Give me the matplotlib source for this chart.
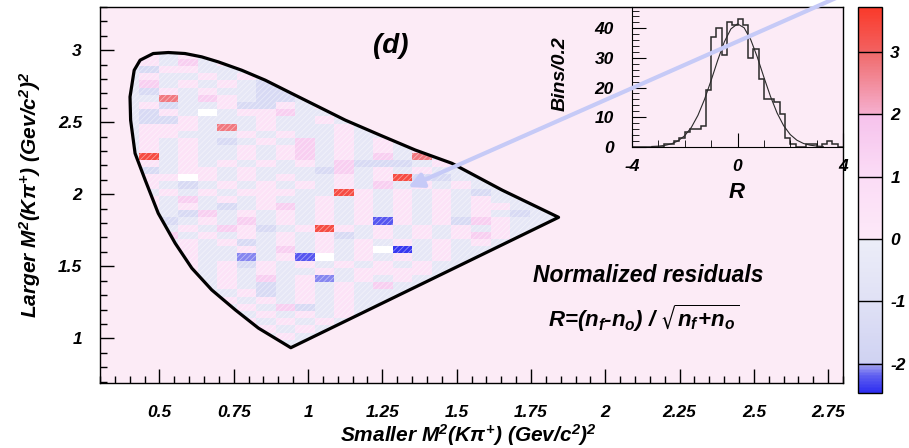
import numpy as np
import matplotlib
matplotlib.use('Agg')
import matplotlib.pyplot as plt
from matplotlib.colors import LinearSegmentedColormap, Normalize
from matplotlib.patches import Polygon
from matplotlib.ticker import MultipleLocator, FixedLocator

plt.rcParams.update({
    'font.family': ['Liberation Sans', 'DejaVu Sans'],
    'font.weight': 'bold',
    'font.style': 'italic',
    'axes.unicode_minus': False,
    'mathtext.fontset': 'custom',
    'mathtext.rm': 'Liberation Sans:bold:italic',
    'mathtext.it': 'Liberation Sans:bold:italic',
    'mathtext.bf': 'Liberation Sans:bold:italic',
    'mathtext.sf': 'Liberation Sans:bold:italic',
    'mathtext.fallback': 'stixsans',
    'hatch.linewidth': 0.6,
})

# ---------------- data ----------------
# residual cells, rows from top (k=45) to bottom (k=4), columns j=1..23
residual_rows = [
    "cpcpc" "cpccc" "ccccc" "ccccc" "ccc",  # 45
    "cpcmc" "pccpc" "ccccc" "ccccc" "ccc",  # 44
    "clppc" "ccpcc" "ccccc" "ccccc" "ccc",  # 43
    "cpccp" "cpccc" "ccccc" "ccccc" "ccc",  # 42
    "cmcpc" "pcllc" "ccccc" "ccccc" "ccc",  # 41
    "clpcp" "ccllp" "ccccc" "ccccc" "ccc",  # 40
    "ccrcm" "pcllc" "cpccc" "ccccc" "ccc",  # 39
    "cplcc" "pllpc" "pcccc" "ccccc" "ccc",  # 38
    "clpcW" "cppmc" "cpccc" "ccccc" "ccc",  # 37
    "cllpc" "ccpcc" "pcccc" "ccccc" "ccc",  # 36
    "cpppc" "rcpcc" "cpcpc" "ccccc" "ccc",  # 35
    "cppcc" "cpcpc" "cpccp" "ccccc" "ccc",  # 34
    "cpcpc" "lcpcm" "cpcpc" "ccccc" "ccc",  # 33
    "cpcpc" "cpcpm" "cpcpc" "pcccc" "ccc",  # 32
    "cRcpc" "cpcpm" "cpcmc" "rcccc" "ccc",  # 31
    "cpcpc" "pcpcp" "cmlll" "cpccc" "ccc",  # 30
    "clcpp" "cpccc" "lmcpc" "pcccc" "ccc",  # 29
    "cppWp" "cpcpc" "cpcpR" "llccc" "ccc",  # 28
    "cpclc" "pcpcp" "cpcmc" "pcpcc" "ccc",  # 27
    "ccpcp" "cpppc" "cRpcp" "cpclc" "ccc",  # 26
    "cpcmc" "pcpcc" "pcpcp" "cpcpc" "ccc",  # 25
    "cpcpc" "lcpmc" "pcpcp" "cpcpp" "ccc",  # 24
    "cpclm" "cpcpc" "pcpcp" "cpcpc" "lcc",  # 23
    "cplcp" "cmcpc" "pcpBp" "cplmp" "ccc",  # 22
    "cpcpc" "mplcp" "Rpcpc" "pcpcp" "ccc",  # 21
    "cpmcp" "cpcpc" "plcpc" "pcpmp" "ccc",  # 20
    "cpcpc" "plcpc" "pcpcp" "cpcpc" "ccc",  # 19
    "cpcpc" "cpcmc" "pcpWD" "cpccc" "ccc",  # 18
    "cpcpc" "cbcpB" "Wcpcp" "cpccc" "ccc",  # 17
    "cpcpc" "plpcp" "cpcpc" "pcccc" "ccc",  # 16
    "cpcpc" "pcpcc" "pcppp" "pcccc" "ccc",  # 15
    "cpcpc" "pcmcp" "bcpcp" "ccccc" "ccc",  # 14
    "cpcpc" "pclcp" "cpcmc" "ccccc" "ccc",  # 13
    "cpcpc" "cplcp" "cpccc" "ccccc" "ccc",  # 12
    "cpcpc" "pcpcp" "cpccc" "ccccc" "ccc",  # 11
    "cpcpc" "cpcml" "cpccc" "ccccc" "ccc",  # 10
    "cpcpc" "pcpcp" "cpccc" "ccccc" "ccc",  # 9
    "cpcpc" "cpcpc" "pcccc" "ccccc" "ccc",  # 8
    "cpcpc" "pcpcp" "ccccc" "ccccc" "ccc",  # 7
    "cpcpc" "cpcpc" "ccccc" "ccccc" "ccc",  # 6
    "cpcpc" "pcpcc" "ccccc" "ccccc" "ccc",  # 5
    "cpcpc" "cpccc" "ccccc" "ccccc" "ccc",  # 4
]
code_values = {'c': -0.5, 'p': 0.5, 'm': 1.5, 'l': -1.5, 'r': 2.8, 'R': 3.4,
               'b': -2.1, 'B': -2.25, 'D': -2.4, 'W': np.nan}

# Dalitz boundary
boundary_x = [0.942, 0.833, 0.755, 0.676, 0.609, 0.553, 0.496, 0.452, 0.418, 0.403,
              0.401, 0.415, 0.435, 0.479, 0.530, 0.586, 0.642, 0.698, 0.777, 0.856,
              0.945, 1.058, 1.125, 1.243, 1.361, 1.484, 1.653, 1.843]
boundary_y = [0.935, 1.071, 1.198, 1.336, 1.487, 1.660, 1.868, 2.099, 2.284, 2.515,
              2.676, 2.861, 2.931, 2.977, 2.984, 2.977, 2.954, 2.919, 2.861, 2.792,
              2.700, 2.584, 2.515, 2.410, 2.307, 2.215, 2.029, 1.840]

# inset histogram of R (bins of 0.2 from -4 to 4)
hist_counts = [0, 0, 0, 0, 0, 0, 1, 1, 2, 3, 5, 6, 6, 7, 19, 37, 40, 31, 42, 41,
               43, 41, 30, 33, 23, 16, 16, 15, 11, 3, 1, 0, 0, 1, 1, 0, 1, 2, 1, 0]
fit_R = [-3.25, -3.0, -2.75, -2.5, -2.25, -2.0, -1.75, -1.5, -1.25, -1.0, -0.75, -0.5,
         -0.25, 0.0, 0.25, 0.5, 0.75, 1.0, 1.25, 1.5, 1.75, 2.0, 2.25, 2.5, 2.75, 3.0, 3.25]
fit_counts = [0.08, 0.19, 0.45, 0.98, 1.98, 3.73, 6.52, 10.6, 16.0, 22.4, 29.2, 35.4,
              39.8, 41.5, 40.2, 36.2, 30.3, 23.5, 17.0, 11.4, 7.1, 4.1, 2.2, 1.1, 0.51, 0.22, 0.09]

x_ticks = [0.5, 0.75, 1.0, 1.25, 1.5, 1.75, 2.0, 2.25, 2.5, 2.75]
x_ticklabels = ['0.5', '0.75', '1', '1.25', '1.5', '1.75', '2', '2.25', '2.5', '2.75']
y_ticks = [1.0, 1.5, 2.0, 2.5, 3.0]
y_ticklabels = ['1', '1.5', '2', '2.5', '3']
cbar_ticks = [-2, -1, 0, 1, 2, 3]

# ---------------- colours ----------------
vmin, vmax = -2.47, 3.72
nodes = [(-2.47, '#2e2ef0'), (-2.2, '#6060f0'), (-2.001, '#b0b0f0'), (-2.0, '#cfd2f2'),
         (-1.0, '#e0e1f5'), (0.0, '#ecedf8'), (0.001, '#fde9f8'), (1.0, '#fbdcf6'),
         (2.0, '#f6c2ec'), (2.001, '#f5b0d0'), (3.0, '#f06a6a'), (3.001, '#f26262'),
         (3.72, '#fa3a2a')]
cmap = LinearSegmentedColormap.from_list(
    'resid', [((v - vmin) / (vmax - vmin), c) for v, c in nodes])
cmap.set_bad('white')
norm = Normalize(vmin, vmax)

# ---------------- figure ----------------
fig = plt.figure(figsize=(9.09, 4.48), dpi=100)
ax = fig.add_axes([100 / 909, 65 / 448, 743 / 909, 376 / 448])
ax.set_facecolor('#fcebf6')
ax.set_xlim(0.3, 2.8)
ax.set_ylim(0.69, 3.3)

grid = np.array([[code_values[ch] for ch in row] for row in residual_rows[::-1]])
x_edges = 0.3 + 0.0657 * np.arange(1, grid.shape[1] + 2)
y_edges = 0.69 + 0.05 * np.arange(4, 4 + grid.shape[0] + 1)
mesh = ax.pcolormesh(x_edges, y_edges, np.ma.masked_invalid(grid), cmap=cmap, norm=norm,
                     zorder=1)

poly_pts = list(zip(boundary_x, boundary_y))
clip_poly = Polygon(poly_pts, closed=True, transform=ax.transData, facecolor='none',
                    edgecolor='none')
ax.add_patch(clip_poly)
mesh.set_clip_path(clip_poly)
# fine diagonal texture inside the region
ax.add_patch(Polygon(poly_pts, closed=True, facecolor='none', edgecolor=(1, 1, 1, 0.45),
                     lw=0, hatch='//////', zorder=2))
ax.add_patch(Polygon(poly_pts, closed=True, facecolor='none', edgecolor='black',
                     lw=2.3, joinstyle='round', zorder=3))

ax.xaxis.set_major_locator(FixedLocator(x_ticks))
ax.set_xticklabels(x_ticklabels)
ax.xaxis.set_minor_locator(MultipleLocator(0.05))
ax.yaxis.set_major_locator(FixedLocator(y_ticks))
ax.set_yticklabels(y_ticklabels)
ax.yaxis.set_minor_locator(MultipleLocator(0.1))
ax.tick_params(which='both', direction='in', top=False, right=False, width=1)
ax.tick_params(which='major', length=10, labelsize=12.5)
ax.tick_params(which='minor', length=5)
ax.tick_params(axis='x', which='major', pad=16)
ax.tick_params(axis='y', which='major', pad=13)
for s in ax.spines.values():
    s.set_linewidth(1.0)

fig.text(468 / 909, 1 - 435 / 448, r'Smaller M$^{2}$(K$\pi^{+}$) (Gev/c$^{2}$)$^{2}$',
         ha='center', va='center', fontsize=15)
fig.text(30 / 909, 1 - 195 / 448, r'Larger M$^{2}$(K$\pi^{+}$) (Gev/c$^{2}$)$^{2}$',
         ha='center', va='center', fontsize=15, rotation=90)
fig.text(391 / 909, 1 - 46 / 448, '(d)', ha='center', va='center', fontsize=20)
fig.text(533 / 909, 1 - 275 / 448, 'Normalized residuals', ha='left', va='center',
         fontsize=16.5)
fig.text(548 / 909, 1 - 318 / 448, r'$R$=($n_f$-$n_o$) / $\sqrt{n_f\!+\!n_o}$',
         ha='left', va='center', fontsize=16)

# ---------------- colorbar ----------------
cax = fig.add_axes([858 / 909, 55 / 448, 24 / 909, 386 / 448])
cb = fig.colorbar(mesh, cax=cax, ticks=cbar_ticks)
cb.outline.set_linewidth(1.0)
cax.tick_params(length=0, labelsize=12.5, pad=6)
cax.set_yticklabels([str(t) for t in cbar_ticks])
for t in cbar_ticks:
    cax.axhline(t, color='black', lw=1.0)

# ---------------- inset ----------------
axi = fig.add_axes([632 / 909, (448 - 146.7) / 448, 211 / 909, 139.7 / 448])
axi.set_facecolor('none')
axi.set_xlim(-4, 4)
axi.set_ylim(0, 47.2)
edges = np.linspace(-4, 4, len(hist_counts) + 1)
axi.stairs(hist_counts, edges, color='#2a2a2a', lw=1.1)
axi.plot(fit_R, fit_counts, color='#2a2a2a', lw=0.8)
axi.spines['top'].set_visible(False)
axi.spines['right'].set_visible(False)
axi.xaxis.set_major_locator(FixedLocator([-4, 0, 4]))
axi.set_xticklabels(['-4', '0', '4'])
axi.xaxis.set_minor_locator(MultipleLocator(1))
axi.yaxis.set_major_locator(FixedLocator([0, 10, 20, 30, 40]))
axi.yaxis.set_minor_locator(MultipleLocator(2))
axi.tick_params(which='both', direction='in', top=False, right=False)
axi.tick_params(which='major', length=10, labelsize=12.5)
axi.tick_params(which='minor', length=5)
axi.tick_params(axis='x', which='major', pad=9)
axi.tick_params(axis='y', which='major', pad=13)
fig.text(737 / 909, 1 - 192 / 448, 'R', ha='center', va='center', fontsize=16)
fig.text(560 / 909, 1 - 74 / 448, 'Bins/0.2', ha='center', va='center', fontsize=14,
         rotation=90)

# arrow
axi.annotate('', xy=(1.337, 2.05), xycoords=ax.transData,
             xytext=(2.812, 3.395), textcoords=ax.transData,
             arrowprops=dict(arrowstyle='-|>', color='#c6caf7', lw=3,
                             mutation_scale=22, shrinkA=0, shrinkB=0),
             annotation_clip=False, zorder=10)

fig.savefig('out.png', dpi=100)
